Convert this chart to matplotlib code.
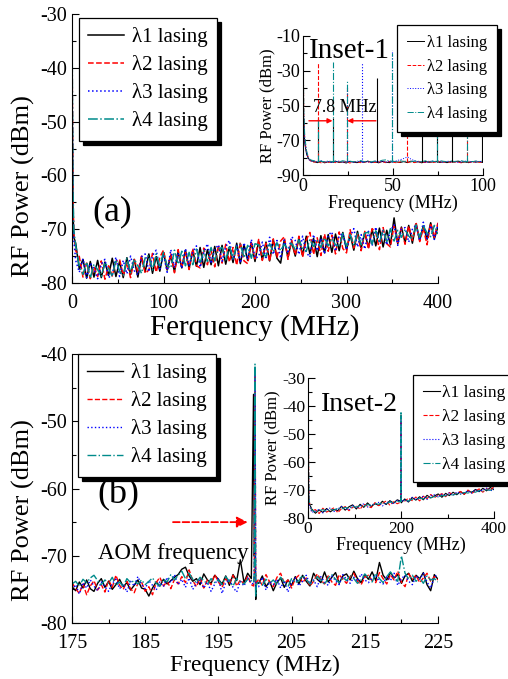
import numpy as np
import matplotlib
matplotlib.use('Agg')
import matplotlib.pyplot as plt

plt.rcParams['font.family'] = ['Liberation Serif', 'DejaVu Serif']
plt.rcParams['axes.unicode_minus'] = False

######################## DATA ##################################################
labels = ['λ1 lasing', 'λ2 lasing', 'λ3 lasing', 'λ4 lasing']
colors = ['black', 'red', 'blue', '#008b8b']
styles = ['-', '--', ':', '-.']

# (a) full span 0-400 MHz
fa = np.concatenate([[0, 1, 2], np.arange(4, 401, 4)])
a_black = [-40, -66, -71.5,
    -72.6, -77.4, -75.6, -79.1, -76.0, -78.9, -75.8, -79.0, -76.1, -78.6,
    -75.4, -78.8, -76.0, -79.0, -75.3, -78.4, -75.6, -78.9, -75.2, -77.9,
    -74.6, -78.2, -75.1, -77.8, -74.3, -77.6, -74.9, -77.9, -74.2, -77.2,
    -73.9, -77.3, -74.0, -76.9, -73.4, -77.1, -73.8, -76.6, -73.2, -76.8,
    -73.0, -76.5, -73.3, -76.2, -72.6, -76.4, -72.9, -75.8, -72.5, -76.0,
    -72.2, -75.7, -72.4, -75.9, -71.9, -75.4, -76.3, -72.0, -75.2, -72.3,
    -75.0, -71.6, -74.9, -71.3, -74.6, -71.7, -75.1, -71.2, -74.4, -71.0,
    -74.3, -70.9, -74.0, -70.6, -73.8, -71.0, -73.9, -70.4, -73.5, -70.7,
    -73.4, -70.0, -73.1, -69.8, -73.3, -70.2, -72.9, -67.9, -72.7, -69.6,
    -72.5, -69.3, -72.6, -69.0, -72.1, -69.4, -71.9, -68.8, -71.8, -69.5]
a_red = [-33, -64, -70.8,
    -74.0, -75.1, -78.9, -76.3, -79.2, -77.0, -78.8, -75.9, -79.3, -76.8,
    -78.7, -76.0, -75.6, -78.6, -76.2, -79.0, -75.5, -77.9, -75.0, -78.2,
    -77.6, -74.5, -78.0, -75.2, -73.9, -77.4, -74.6, -78.1, -73.8, -76.9,
    -74.3, -77.5, -73.6, -76.8, -77.2, -73.5, -76.6, -73.9, -77.0, -73.0,
    -76.3, -72.8, -76.1, -73.4, -76.7, -72.4, -75.9, -76.4, -72.6, -75.5,
    -71.9, -75.8, -72.6, -76.0, -71.8, -75.3, -72.2, -71.4, -75.6, -72.0,
    -74.8, -71.3, -75.2, -72.0, -70.6, -74.7, -71.6, -74.9, -70.9, -74.1,
    -71.1, -74.6, -70.5, -73.6, -74.4, -70.1, -73.5, -70.9, -74.0, -70.4,
    -73.7, -69.9, -70.6, -73.8, -69.7, -72.7, -73.3, -69.3, -72.5, -69.8,
    -72.8, -69.4, -72.1, -68.7, -72.3, -69.8, -72.9, -68.9, -71.5, -68.8]
a_blue = [-36, -67, -72,
    -75.8, -78.0, -75.5, -79.0, -76.3, -77.4, -79.2, -76.5, -75.6, -79.0,
    -78.4, -75.2, -78.8, -75.8, -78.3, -75.0, -77.7, -78.5, -75.1, -74.6,
    -77.9, -74.9, -73.9, -77.4, -74.7, -78.0, -73.8, -77.1, -74.5, -77.3,
    -73.6, -76.7, -74.2, -73.1, -77.1, -74.4, -72.7, -76.4, -73.8, -72.9,
    -76.0, -73.3, -72.1, -75.7, -73.0, -76.3, -72.5, -75.6, -71.9, -75.4,
    -75.1, -72.4, -75.6, -71.5, -74.7, -72.1, -75.4, -72.0, -74.5, -71.4,
    -72.1, -74.7, -71.3, -74.3, -75.2, -71.0, -74.0, -71.7, -74.6, -71.1,
    -70.5, -74.1, -71.2, -70.8, -73.8, -71.4, -69.9, -73.3, -71.0, -73.7,
    -70.4, -73.1, -69.6, -72.6, -70.2, -72.9, -70.3, -69.2, -73.0, -70.0,
    -69.7, -72.4, -70.0, -69.2, -72.1, -68.7, -71.7, -69.3, -71.9, -69.0]
a_teal = [-30, -62, -70.2,
    -73.0, -76.9, -78.4, -76.1, -79.1, -76.5, -77.5, -78.8, -76.2, -77.3,
    -78.8, -75.7, -77.8, -78.6, -75.4, -78.1, -75.6, -76.8, -78.2, -75.3,
    -74.9, -77.6, -74.6, -77.0, -74.3, -76.8, -77.2, -73.9, -76.5, -74.1,
    -76.8, -74.3, -76.6, -73.7, -76.3, -74.0, -76.0, -73.4, -75.9, -73.7,
    -73.4, -75.7, -73.1, -75.5, -73.2, -72.8, -75.3, -73.0, -75.4, -72.7,
    -72.9, -74.4, -75.1, -72.7, -74.2, -72.5, -74.0, -72.8, -73.7, -72.6,
    -73.8, -72.0, -73.5, -74.1, -71.9, -73.2, -72.1, -73.4, -71.6, -73.1,
    -71.7, -72.9, -73.3, -70.8, -73.2, -71.0, -73.1, -70.6, -72.9, -70.7,
    -70.6, -72.8, -70.3, -72.5, -70.1, -72.3, -69.9, -72.2, -70.2, -71.5,
    -70.0, -71.3, -71.7, -69.2, -71.5, -69.4, -70.7, -71.4, -69.3, -70.9]

# Inset-1: 0-100 MHz, baseline + beat-note peaks
fi1 = np.concatenate([[0, 0.5, 1, 2, 3, 4], np.arange(6, 101, 2)])
i1_black = [-45, -62, -72, -78, -80.5, -81.5,
    -82.3, -82.9, -82.1, -83.0, -82.4, -82.7, -82.0, -82.8, -82.5, -83.1,
    -82.2, -82.6, -82.9, -82.3, -82.7, -82.0, -82.8, -82.4, -83.0, -82.2,
    -82.6, -82.9, -82.1, -82.5, -82.8, -82.3, -82.9, -82.0, -82.6, -82.4,
    -83.0, -82.2, -82.7, -82.5, -82.1, -82.8, -82.4, -82.9, -82.3, -82.6,
    -82.0, -82.7, -82.5, -82.9, -82.2, -82.6, -82.4, -82.8]
i1_red = [-10, -58, -70, -77, -80, -81.8,
    -82.6, -82.2, -83.0, -82.5, -82.8, -82.1, -82.9, -82.4, -82.7, -82.2,
    -83.1, -82.5, -82.3, -82.9, -82.4, -82.7, -82.1, -82.8, -82.5, -82.3,
    -82.9, -82.2, -82.6, -83.0, -82.4, -82.1, -82.7, -82.5, -82.9, -82.3,
    -82.6, -82.8, -82.2, -82.9, -82.5, -82.3, -82.7, -82.1, -82.8, -82.4,
    -82.6, -83.0, -82.2, -82.5, -82.8, -82.3, -82.7, -82.4]
i1_blue = [-40, -60, -71, -77.5, -80.8, -82,
    -82.0, -82.5, -81.8, -82.6, -82.2, -82.9, -82.4, -82.0, -82.7, -82.3,
    -82.1, -82.8, -82.4, -82.0, -82.6, -82.3, -82.9, -82.1, -82.5, -82.2,
    -82.6, -82.0, -82.4, -81.8, -81.2, -80.5, -79.6, -80.9, -81.8, -82.5,
    -82.2, -82.8, -82.4, -82.0, -82.6, -82.3, -82.7, -82.1, -82.5, -82.2,
    -82.8, -82.4, -82.0, -82.6, -82.3, -82.5, -82.1, -82.6]
i1_teal = [-10, -55, -68, -76, -79.8, -81.2,
    -81.8, -82.2, -82.0, -82.4, -81.9, -82.3, -82.1, -82.5, -81.8, -82.2,
    -82.0, -82.4, -82.1, -81.7, -82.3, -82.0, -82.4, -81.9, -82.2, -81.5,
    -81.3, -81.9, -82.1, -82.3, -81.8, -82.2, -82.0, -82.4, -81.9, -82.1,
    -82.3, -81.8, -82.2, -82.0, -82.4, -81.7, -82.1, -82.3, -81.9, -82.2,
    -82.0, -81.8, -82.3, -82.1, -82.4, -81.9, -82.2, -82.0]
peak_floor = -82.5
pk_black_f = [8.3, 16.4, 41.3, 66.3, 74.4, 82.8, 99.4]
pk_black_p = [-57, -57, -34, -40, -40, -40, -40]
pk_red_f = [8.3, 24.6, 57.8, 91.0]
pk_red_p = [-25, -40, -62, -58]
pk_blue_f = [24.6, 33.0, 49.6]
pk_blue_p = [-38, -25, -18]
pk_teal_f = [8.3, 16.4, 24.6, 49.6, 74.4, 91.0]
pk_teal_p = [-57, -25, -36, -20, -57, -45]

# (b) zoom 175-225 MHz around AOM frequency
fb = np.concatenate([np.arange(175, 199.6, 0.5), [199.8, 199.9, 200.0, 200.1, 200.2],
                     np.arange(200.5, 225.01, 0.5)])
b_black = [
    -74.6, -75.2, -73.9, -74.8, -73.6, -74.9, -75.3, -74.1, -73.4, -74.7,
    -73.8, -75.0, -74.3, -73.5, -74.6, -74.0, -75.1, -74.4, -73.6, -74.8,
    -75.0, -76.0, -74.8, -73.9, -74.5, -73.5, -74.2, -73.7, -73.2, -72.8,
    -72.0, -71.7, -73.0, -73.8, -73.4, -74.3, -72.7, -73.6, -74.1, -72.9,
    -73.5, -74.2, -73.0, -74.4, -72.8, -73.7, -70.6, -74.0, -72.6, -73.4,
    -46.0, -70.0, -68.0, -76.5, -73.8,
    -74.1, -73.0, -74.6, -73.8, -75.2, -74.0, -73.3, -74.7, -73.6, -74.4,
    -73.1, -74.2, -72.9, -73.8, -74.5, -72.6, -73.5, -74.0, -72.4, -73.9,
    -73.2, -72.5, -74.1, -73.0, -72.7, -73.6, -72.3, -73.4, -74.0, -72.8,
    -73.5, -72.4, -73.7, -71.0, -72.9, -73.6, -72.5, -73.3, -72.8, -74.1,
    -73.0, -72.6, -73.8, -72.9, -73.4, -72.5, -74.3, -75.2, -72.8, -73.5]
b_red = [
    -74.0, -74.9, -75.6, -74.2, -75.8, -74.5, -73.7, -75.1, -74.3, -75.4,
    -73.6, -74.7, -72.9, -74.4, -75.0, -73.8, -74.9, -75.5, -74.1, -73.9,
    -75.3, -74.6, -75.8, -74.0, -73.2, -74.5, -73.8, -74.9, -73.5, -74.2,
    -73.1, -74.0, -72.1, -73.7, -74.6, -73.3, -74.8, -73.6, -74.3, -72.8,
    -73.9, -74.7, -73.4, -74.1, -72.9, -74.5, -73.6, -74.2, -73.0, -74.3,
    -74.5, -73.0, -42.5, -75.0, -74.0,
    -73.5, -74.4, -72.8, -73.9, -74.6, -73.2, -72.6, -74.1, -73.6, -74.8,
    -73.4, -72.9, -74.0, -73.3, -74.5, -73.8, -72.7, -73.6, -74.2, -73.0,
    -73.9, -74.4, -72.8, -73.5, -74.1, -73.1, -72.6, -73.8, -74.3, -73.2,
    -72.9, -73.7, -74.0, -72.5, -73.4, -74.2, -72.8, -73.6, -72.3, -73.9,
    -74.6, -72.7, -73.5, -72.9, -74.0, -73.3, -72.6, -73.8, -73.1, -73.6]
b_blue = [
    -75.1, -74.3, -75.7, -74.0, -74.8, -73.6, -74.5, -75.2, -73.9, -74.6,
    -75.3, -74.1, -73.5, -74.9, -74.2, -75.4, -73.8, -74.5, -73.1, -74.3,
    -74.9, -73.7, -74.4, -75.1, -73.9, -74.6, -73.2, -74.0, -72.8, -74.3,
    -73.5, -74.7, -73.3, -75.0, -74.1, -73.6, -74.8, -73.9, -75.3, -74.2,
    -73.4, -75.6, -74.0, -73.5, -74.7, -75.4, -73.8, -74.5, -73.3, -74.1,
    -74.2, -73.6, -43.0, -74.8, -74.4,
    -74.6, -73.2, -75.1, -73.9, -74.3, -73.5, -74.8, -73.7, -75.4, -74.0,
    -73.3, -74.5, -73.8, -72.9, -74.2, -73.6, -74.6, -73.1, -73.9, -74.4,
    -73.0, -73.7, -74.3, -72.8, -73.5, -74.1, -73.2, -73.8, -72.7, -73.6,
    -74.0, -73.3, -72.9, -73.9, -74.2, -73.1, -73.7, -72.6, -74.4, -73.4,
    -72.9, -73.8, -74.3, -73.0, -73.5, -72.6, -73.9, -74.8, -73.2, -72.7]
b_teal = [
    -74.2, -73.8, -74.5, -73.5, -74.0, -73.3, -72.9, -73.7, -74.3, -73.6,
    -74.1, -73.2, -74.4, -73.9, -74.6, -73.4, -74.0, -73.7, -74.2, -73.6,
    -74.3, -73.8, -73.3, -74.1, -74.5, -73.5, -73.9, -72.8, -73.6, -72.9,
    -72.3, -73.4, -72.6, -73.5, -74.0, -73.2, -73.7, -74.2, -73.4, -74.0,
    -73.6, -74.3, -73.1, -73.8, -74.5, -73.4, -73.9, -74.2, -73.5, -73.7,
    -74.0, -72.5, -41.5, -76.0, -74.3,
    -73.8, -74.4, -73.5, -74.1, -73.6, -74.3, -73.2, -73.9, -74.6, -73.4,
    -74.0, -73.7, -72.9, -73.5, -74.2, -73.8, -73.1, -73.6, -74.3, -73.3,
    -72.8, -73.5, -74.0, -73.2, -73.7, -72.9, -73.4, -74.1, -73.6, -72.7,
    -73.3, -73.9, -72.6, -73.4, -74.0, -73.1, -72.4, -73.2, -73.8, -70.0,
    -72.6, -73.5, -72.9, -73.8, -73.3, -74.1, -73.0, -73.6, -73.4, -73.9]

# Inset-2: 0-400 MHz with AOM line at 200 MHz
fi2 = np.concatenate([[0, 2], np.arange(8, 200, 8), [199.5, 200, 200.5], np.arange(208, 401, 8)])
i2_black = [-60, -74.5,
    -76.8, -78.3, -77.1, -78.0, -76.6, -77.8, -76.9, -77.4, -75.8, -77.2, -76.0, -75.3,
    -76.8, -75.1, -76.2, -74.6, -75.9, -74.9, -75.5, -74.0, -75.2, -73.8, -74.7, -73.5,
    -74.0, -67.0, -74.6,
    -73.2, -74.3, -72.7, -73.6, -72.4, -73.5, -71.9, -72.8, -72.1, -71.4, -72.6, -71.2,
    -72.0, -70.8, -71.7, -70.6, -71.5, -70.2, -70.9, -69.8, -70.6, -69.4, -70.3, -69.1, -69.9]
i2_red = [-30, -73.8,
    -77.5, -77.0, -78.4, -76.5, -77.9, -77.2, -76.3, -78.1, -76.7, -75.9, -77.4, -76.2,
    -75.6, -76.9, -75.0, -75.8, -76.3, -74.5, -75.6, -74.8, -73.9, -75.4, -74.2, -74.9,
    -74.3, -43.0, -73.8,
    -74.0, -72.9, -73.8, -72.5, -73.9, -72.2, -73.1, -71.6, -72.7, -71.9, -71.3, -72.4,
    -70.9, -71.8, -71.1, -70.5, -71.6, -70.0, -71.2, -70.4, -69.6, -70.8, -69.5, -70.1, -68.8]
i2_blue = [-50, -75.0,
    -78.0, -77.6, -76.9, -78.2, -77.0, -76.4, -77.7, -76.8, -75.9, -76.6, -77.1, -75.5,
    -76.4, -75.7, -74.9, -76.1, -75.3, -75.0, -74.4, -75.7, -74.6, -74.1, -75.0, -73.7,
    -73.9, -45.0, -74.1,
    -73.5, -74.1, -72.6, -73.3, -73.0, -72.2, -73.4, -72.0, -71.7, -72.5, -71.5, -72.1,
    -71.0, -71.9, -70.7, -71.4, -70.9, -70.3, -71.1, -69.9, -70.5, -70.0, -69.3, -70.4, -69.6]
i2_teal = [-30, -73.5,
    -77.2, -77.8, -77.4, -77.0, -77.6, -76.9, -77.2, -76.5, -76.8, -76.2, -76.6, -75.9,
    -76.1, -75.6, -75.8, -75.2, -75.5, -74.8, -75.1, -74.6, -74.9, -74.3, -74.5, -74.1,
    -74.2, -42.0, -74.0,
    -73.7, -73.9, -73.3, -73.5, -72.9, -73.2, -72.6, -72.8, -72.3, -72.5, -71.9, -72.1,
    -71.6, -71.8, -71.3, -71.5, -70.9, -71.1, -70.6, -70.8, -70.2, -70.4, -69.9, -70.1, -69.6]
################################################################################

W, H = 508, 679
fig = plt.figure(figsize=(W / 100, H / 100), dpi=100)


def add_px(l, t, r, b):
    return fig.add_axes([l / W, 1 - b / H, (r - l) / W, (b - t) / H])


def style(ax, fs):
    for s in ['top', 'right']:
        ax.spines[s].set_visible(False)
    ax.tick_params(which='both', direction='in', labelsize=fs)
    ax.tick_params(which='major', length=5, width=0.8)
    ax.tick_params(which='minor', length=3, width=0.8)


def legend(ax, anchor, fs, hl, pad, sp, bp):
    leg = ax.legend(loc='upper left', bbox_to_anchor=anchor, borderaxespad=0,
                    fontsize=fs, fancybox=False, edgecolor='k', framealpha=1,
                    shadow={'ox': 3, 'oy': -3, 'color': 'k', 'alpha': 1},
                    handlelength=hl, handletextpad=pad, labelspacing=sp,
                    borderpad=bp)
    leg.get_frame().set_linewidth(0.9)
    return leg


# ---------------- panel (a) ----------------
ax1 = add_px(72, 14, 438, 283)
for y, c, ls, lab in zip([a_black, a_red, a_blue, a_teal], colors, styles, labels):
    ax1.plot(fa, y, color=c, ls=ls, lw=1.1, label=lab)
ax1.set_xlim(0, 400)
ax1.set_ylim(-80, -30)
ax1.set_xticks([0, 100, 200, 300, 400])
ax1.set_xticks([50, 150, 250, 350], minor=True)
ax1.set_yticks([-80, -70, -60, -50, -40, -30])
ax1.set_yticks([-75, -65, -55, -45, -35], minor=True)
style(ax1, 14.5)
ax1.tick_params(axis='x', pad=8)
ax1.set_xlabel('Ferquency (MHz)', fontsize=21, labelpad=1)
ax1.set_ylabel('RF Power (dBm)', fontsize=19)
ax1.yaxis.set_label_coords(-0.1, 0.36)
legend(ax1, (0.019, 0.985), 15, 1.7, 0.4, 0.38, 0.45)
ax1.text(43.7, -66.8, '(a)', fontsize=26, ha='center', va='center')

# ---------------- inset-1 ----------------
ax2 = add_px(303, 36, 483, 175)
for y, c, ls, lab in zip([i1_black, i1_red, i1_blue, i1_teal], colors, styles, labels):
    ax2.plot(fi1, y, color=c, ls=ls, lw=0.7, label=lab)
for pf, pp, c, ls in zip([pk_black_f, pk_red_f, pk_blue_f, pk_teal_f],
                         [pk_black_p, pk_red_p, pk_blue_p, pk_teal_p], colors, styles):
    ax2.vlines(pf, peak_floor, pp, colors=c, linestyles=ls, lw=0.8)
ax2.set_xlim(0, 100)
ax2.set_ylim(-90, -10)
ax2.set_xticks([0, 50, 100])
ax2.set_xticks([25, 75], minor=True)
ax2.set_yticks([-90, -70, -50, -30, -10])
ax2.set_yticks([-80, -60, -40, -20], minor=True)
style(ax2, 13)
ax2.tick_params(axis='x', pad=2)
ax2.tick_params(axis='y', pad=2)
ax2.set_xlabel('Frequency (MHz)', fontsize=13, labelpad=0)
ax2.set_ylabel('RF Power (dBm)', fontsize=12, labelpad=1)
legend(ax2, (0.522, 1.079), 12, 1.0, 0.2, 0.45, 0.6)
ax2.text(26, -18.6, 'Inset-1', fontsize=21, ha='center', va='center')
ax2.text(23.3, -50.9, '7.8 MHz', fontsize=13, ha='center', va='center')
ax2.annotate('', xy=(16.4, -58.8), xytext=(3.3, -58.8),
             arrowprops=dict(arrowstyle='-|>', color='red', lw=1, mutation_scale=7,
                             shrinkA=0, shrinkB=0))
ax2.annotate('', xy=(24.6, -58.8), xytext=(40.5, -58.8),
             arrowprops=dict(arrowstyle='-|>', color='red', lw=1, mutation_scale=7,
                             shrinkA=0, shrinkB=0))

# ---------------- panel (b) ----------------
ax3 = add_px(72, 354, 438, 623)
for y, c, ls, lab in zip([b_black, b_red, b_blue, b_teal], colors, styles, labels):
    ax3.plot(fb, y, color=c, ls=ls, lw=1.0, label=lab)
ax3.set_xlim(175, 225)
ax3.set_ylim(-80, -40)
ax3.set_xticks([175, 185, 195, 205, 215, 225])
ax3.set_xticks([180, 190, 200, 210, 220], minor=True)
ax3.set_yticks([-80, -70, -60, -50, -40])
ax3.set_yticks([-75, -65, -55, -45], minor=True)
style(ax3, 14.5)
ax3.tick_params(axis='x', pad=8)
ax3.set_xlabel('Frequency (MHz)', fontsize=17, labelpad=1)
ax3.set_ylabel('RF Power (dBm)', fontsize=19)
ax3.yaxis.set_label_coords(-0.1, 0.42)
legend(ax3, (0.016, 1.0), 15, 1.7, 0.4, 0.38, 0.45)
ax3.text(181.3, -61.0, '(b)', fontsize=26, ha='center', va='center')
ax3.text(188.8, -69.6, 'AOM frequency', fontsize=16.5, ha='center', va='center')
ax3.annotate('', xy=(199.0, -65.0), xytext=(188.8, -65.0),
             arrowprops=dict(arrowstyle='-|>', color='red', lw=1.3, ls='--',
                             mutation_scale=16, shrinkA=0, shrinkB=0))

# ---------------- inset-2 ----------------
ax4 = add_px(308, 378, 494, 518)
for y, c, ls, lab in zip([i2_black, i2_red, i2_blue, i2_teal], colors, styles, labels):
    ax4.plot(fi2, y, color=c, ls=ls, lw=0.8, label=lab)
ax4.set_xlim(0, 400)
ax4.set_ylim(-80, -30)
ax4.set_xticks([0, 200, 400])
ax4.set_xticks([100, 300], minor=True)
ax4.set_yticks([-80, -70, -60, -50, -40, -30])
ax4.set_yticks([-75, -65, -55, -45, -35], minor=True)
style(ax4, 12.5)
ax4.tick_params(axis='x', pad=2)
ax4.tick_params(axis='y', pad=2)
ax4.set_xlabel('Frequency (MHz)', fontsize=13, labelpad=0)
ax4.set_ylabel('RF Power (dBm)', fontsize=12, labelpad=1)
legend(ax4, (0.566, 1.021), 12.5, 1.0, 0.1, 0.45, 0.55)
ax4.text(110, -39.6, 'Inset-2', fontsize=20, ha='center', va='center')

fig.savefig('out.png', dpi=100)
